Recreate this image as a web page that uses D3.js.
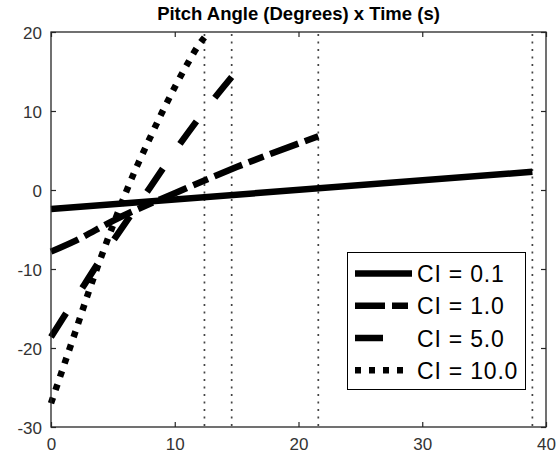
<!DOCTYPE html>
<html>
<head>
<meta charset="utf-8">
<script src="https://cdn.jsdelivr.net/npm/d3@7"></script>
<style>
  html, body { margin: 0; padding: 0; background: #fff; }
  svg { display: block; }
  text { font-family: "Liberation Sans", Arial, Helvetica, sans-serif; }
</style>
</head>
<body>
<svg id="chart" width="558" height="461"></svg>
<script>
// ---- data ----
const title = "Pitch Angle (Degrees) x Time (s)";
const xTicks = [0, 10, 20, 30, 40];
const yTicks = [-30, -20, -10, 0, 10, 20];
const endTimes = [12.4, 14.6, 21.6, 38.9];   // vertical dotted lines

const ci01T = [0, 38.9];
const ci01V = [-2.4, 2.3];

const ci1T = [0, 2, 5, 10, 15, 21.6];
const ci1V = [-7.8, -6.4, -3.9, -0.4, 2.9, 6.8];

const ci5T = [0, 2, 4, 6, 8, 10, 12, 14.6];
const ci5V = [-18.6, -13.7, -8.8, -4.2, 0.3, 4.9, 9.2, 14.3];

const ci10T = [0, 1, 2, 3, 4, 5, 6, 7, 8, 9, 10, 11, 12, 12.4];
const ci10V = [-27, -22.4, -17.8, -13.1, -8.7, -4.5, -0.5, 3.2, 6.6, 9.9, 13.0, 15.9, 18.5, 19.3];

const seriesNames = ["CI = 0.1", "CI = 1.0", "CI = 5.0", "CI = 10.0"];

// ---- layout ----
const L = 51, R = 546, T = 32, B = 427;
const svg = d3.select("#chart");
const x = d3.scaleLinear().domain([0, 40]).range([L, R]);
const y = d3.scaleLinear().domain([-30, 20]).range([B, T]);
const axisColor = "#262626";
const fmt = d => String(d); // plain hyphen minus

// styles for series
const dashes = [null, "30,7,16,7", "28,30", "6,8"];
const legendEnd = [412, 408, 412, 404];
const lw = 6.5;

const series = [
  ci01T.map((t, i) => [t, ci01V[i]]),
  ci1T.map((t, i) => [t, ci1V[i]]),
  ci5T.map((t, i) => [t, ci5V[i]]),
  ci10T.map((t, i) => [t, ci10V[i]])
];

// vertical dotted lines
svg.append("g").selectAll("line").data(endTimes).join("line")
  .attr("x1", d => x(d)).attr("x2", d => x(d))
  .attr("y1", T + 2).attr("y2", B - 1)
  .attr("stroke", "#444").attr("stroke-width", 1.7)
  .attr("stroke-dasharray", "2,5.5");

// series lines
const line = d3.line().x(d => x(d[0])).y(d => y(d[1])).curve(d3.curveMonotoneX);
svg.append("g").selectAll("path").data(series).join("path")
  .attr("d", line)
  .attr("fill", "none")
  .attr("stroke", "#000")
  .attr("stroke-width", lw)
  .attr("stroke-linecap", "butt")
  .attr("stroke-linejoin", "round")
  .attr("stroke-dasharray", (d, i) => dashes[i]);

// axes
const gB = svg.append("g").attr("transform", `translate(0,${B})`)
  .call(d3.axisBottom(x).tickValues(xTicks).tickSizeInner(-5).tickSizeOuter(0).tickFormat(fmt));
const gT = svg.append("g").attr("transform", `translate(0,${T})`)
  .call(d3.axisTop(x).tickValues(xTicks).tickSizeInner(-5).tickSizeOuter(0).tickFormat(""));
const gL = svg.append("g").attr("transform", `translate(${L},0)`)
  .call(d3.axisLeft(y).tickValues(yTicks).tickSizeInner(-5).tickSizeOuter(0).tickFormat(fmt));
const gR = svg.append("g").attr("transform", `translate(${R},0)`)
  .call(d3.axisRight(y).tickValues(yTicks).tickSizeInner(-5).tickSizeOuter(0).tickFormat(""));
[gB, gT, gL, gR].forEach(g => {
  g.select(".domain").remove();
  g.selectAll(".tick line").attr("stroke", axisColor).attr("stroke-width", 1.2);
  g.selectAll("text").attr("fill", "#333").attr("font-size", 17)
    .attr("font-family", "'Liberation Sans', Arial, sans-serif");
});
gB.selectAll("text").attr("dy", "0.71em").attr("y", 11);
gL.selectAll("text").attr("dy", "0.36em").attr("x", -9);

// box
svg.append("rect").attr("x", L).attr("y", T).attr("width", R - L).attr("height", B - T)
  .attr("fill", "none").attr("stroke", axisColor).attr("stroke-width", 1.3);

// title
svg.append("text").attr("x", (L + R) / 2).attr("y", 20)
  .attr("text-anchor", "middle").attr("font-weight", "bold").attr("font-size", 18.5)
  .attr("fill", "#000").text(title);

// legend
const lg = svg.append("g");
lg.append("rect").attr("x", 347.5).attr("y", 252.5).attr("width", 178).attr("height", 137)
  .attr("fill", "#fff").attr("stroke", "#000").attr("stroke-width", 1);
const rowY = [273.5, 305.8, 338, 370.3];
const rows = lg.selectAll("g.row").data(seriesNames).join("g").attr("class", "row");
rows.append("line")
  .attr("x1", 355).attr("x2", (d, i) => legendEnd[i])
  .attr("y1", (d, i) => rowY[i]).attr("y2", (d, i) => rowY[i])
  .attr("stroke", "#000").attr("stroke-width", lw)
  .attr("stroke-dasharray", (d, i) => dashes[i]);
rows.append("text")
  .attr("x", 417).attr("y", (d, i) => rowY[i] + 8.5)
  .attr("font-size", 23).attr("letter-spacing", 0.8).attr("fill", "#000")
  .text(d => d);
</script>
</body>
</html>
